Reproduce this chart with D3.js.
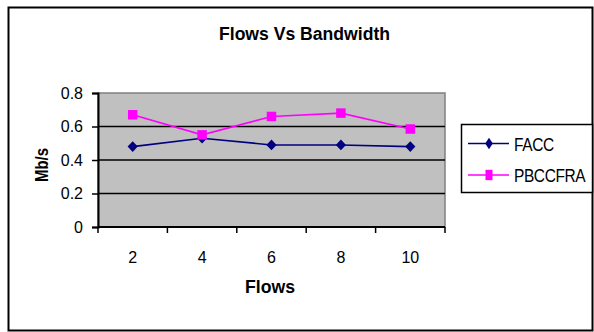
<!DOCTYPE html>
<html>
<head>
<meta charset="utf-8">
<script src="https://cdn.jsdelivr.net/npm/d3@7"></script>
<style>
  html, body { margin: 0; padding: 0; background: #fff; }
  svg { display: block; font-family: "Liberation Sans", Arial, sans-serif; }
</style>
</head>
<body>
<script>
// Chart data
const flows = ["2", "4", "6", "8", "10"];
const facc = [0.48, 0.53, 0.49, 0.49, 0.48];
const pbccfra = [0.67, 0.55, 0.66, 0.68, 0.585];
const yTicks = [0, 0.2, 0.4, 0.6, 0.8];
const seriesNames = ["FACC", "PBCCFRA"];

const W = 594, H = 332;
const plot = { left: 98, right: 445, top: 93, bottom: 227 };

const svg = d3.select("body").append("svg").attr("width", W).attr("height", H);

// outer frame
svg.append("rect").attr("x", 8.5).attr("y", 7.5).attr("width", 584).attr("height", 323)
  .attr("fill", "#fff").attr("stroke", "#000").attr("stroke-width", 2);

const x = d3.scaleBand().domain(flows).range([plot.left, plot.right]);
const y = d3.scaleLinear().domain([0, 0.8]).range([plot.bottom, plot.top]);

// plot background
svg.append("rect").attr("x", plot.left).attr("y", plot.top)
  .attr("width", plot.right - plot.left).attr("height", plot.bottom - plot.top)
  .attr("fill", "#c0c0c0").attr("stroke", "#808080").attr("stroke-width", 1.5);

// horizontal gridlines
svg.append("g").selectAll("line").data(yTicks.filter(d => d > 0 && d < 0.8)).join("line")
  .attr("x1", plot.left).attr("x2", plot.right)
  .attr("y1", d => y(d)).attr("y2", d => y(d))
  .attr("stroke", "#000").attr("stroke-width", 1.5);

// y axis
const yAxis = svg.append("g").attr("transform", `translate(${plot.left},0)`)
  .call(d3.axisLeft(y).tickValues(yTicks).tickSize(6).tickPadding(9)
    .tickFormat(d => d === 0 ? "0" : d3.format(".1f")(d)));
yAxis.select(".domain").attr("stroke-width", 2);
yAxis.selectAll(".tick line").attr("stroke-width", 1.5);
yAxis.selectAll("text").attr("font-size", 16).attr("fill", "#000")
  .attr("font-family", "Liberation Sans, Arial, sans-serif");

// x axis: ticks at category boundaries
const xAxis = svg.append("g").attr("transform", `translate(0,${plot.bottom})`);
xAxis.append("line").attr("x1", plot.left).attr("x2", plot.right)
  .attr("stroke", "#000").attr("stroke-width", 2);
const bounds = flows.map(f => x(f)).concat([x(flows[flows.length - 1]) + x.bandwidth()]);
xAxis.selectAll("line.tk").data(bounds).join("line").attr("class", "tk")
  .attr("x1", d => d).attr("x2", d => d).attr("y1", 0).attr("y2", 6)
  .attr("stroke", "#000").attr("stroke-width", 1.5);
xAxis.selectAll("text").data(flows).join("text")
  .attr("x", d => x(d) + x.bandwidth() / 2).attr("y", 35.5)
  .attr("text-anchor", "middle").attr("font-size", 16).text(d => d);

// titles (tall, narrow bold lettering)
function label(txt, px, py, len, rot) {
  return svg.append("text")
    .attr("transform", `translate(${px},${py})` + (rot ? " rotate(-90)" : ""))
    .attr("text-anchor", "middle").attr("font-size", 18).attr("font-weight", "bold")
    .attr("textLength", len).attr("lengthAdjust", "spacingAndGlyphs").text(txt);
}
label("Flows Vs Bandwidth", 304.5, 40, 171, false);
label("Flows", 270, 293, 50, false);
label("Mb/s", 48, 165, 34, true);

// series
const cx = f => x(f) + x.bandwidth() / 2;
const line = d3.line().x((d, i) => cx(flows[i])).y(d => y(d));
const diamond = {
  draw(ctx, size) {
    const r = Math.sqrt(size / 2);
    ctx.moveTo(0, -r * 1.05); ctx.lineTo(r, 0); ctx.lineTo(0, r * 1.05); ctx.lineTo(-r, 0); ctx.closePath();
  }
};
const series = [
  { name: seriesNames[0], values: facc, color: "#000080", symbol: diamond, size: 52 },
  { name: seriesNames[1], values: pbccfra, color: "#ff00ff", symbol: d3.symbolSquare, size: 90 }
];

series.forEach(s => {
  svg.append("path").datum(s.values).attr("d", line)
    .attr("fill", "none").attr("stroke", s.color).attr("stroke-width", 1.6);
  svg.append("g").selectAll("path").data(s.values).join("path")
    .attr("transform", (d, i) => `translate(${cx(flows[i])},${y(d)})`)
    .attr("d", d3.symbol().type(s.symbol).size(s.size))
    .attr("fill", s.color);
});

// legend
const lg = svg.append("g");
lg.append("rect").attr("x", 461.5).attr("y", 124.5).attr("width", 131).attr("height", 68)
  .attr("fill", "#fff").attr("stroke", "#000").attr("stroke-width", 1.5);
const legendY = [143.5, 175];
series.forEach((s, i) => {
  const ly = legendY[i];
  lg.append("line").attr("x1", 468).attr("x2", 509).attr("y1", ly).attr("y2", ly)
    .attr("stroke", s.color).attr("stroke-width", 1.6);
  lg.append("path").attr("transform", `translate(489,${ly}) scale(0.78,1.15)`)
    .attr("d", d3.symbol().type(s.symbol).size(s.size * 0.9)).attr("fill", s.color);
  lg.append("text").attr("transform", `translate(514,${ly + 7}) scale(1,1.18)`)
    .attr("font-size", 15.5).attr("letter-spacing", -0.4).text(s.name);
});
</script>
</body>
</html>
